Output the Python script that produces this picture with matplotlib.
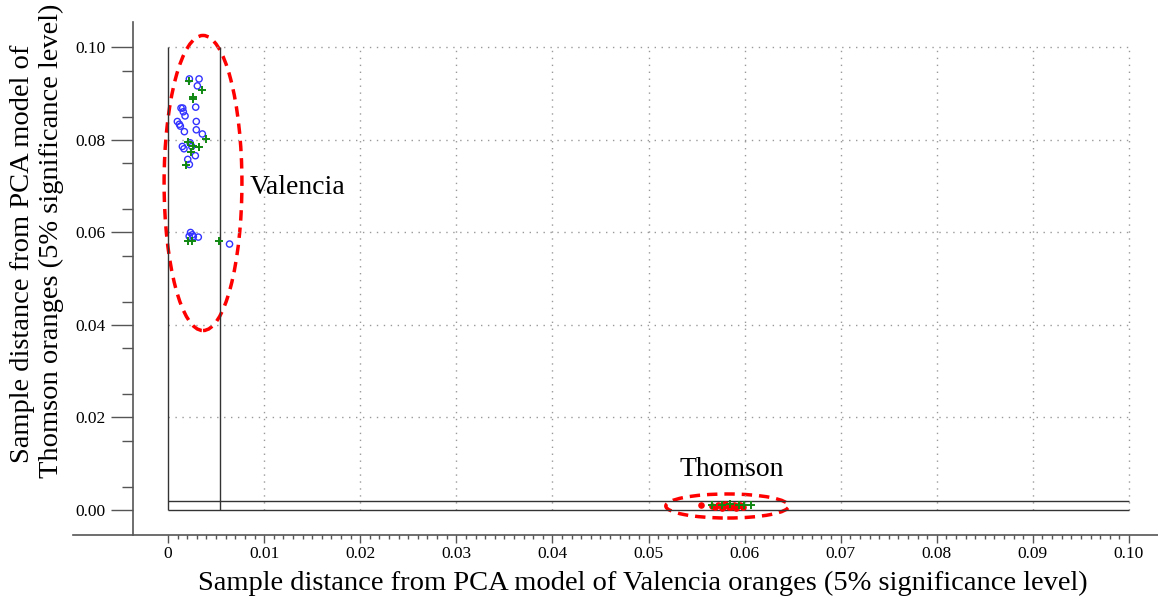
import matplotlib
matplotlib.use("Agg")
import matplotlib.pyplot as plt
from matplotlib.patches import Ellipse
from matplotlib.ticker import FixedLocator, FuncFormatter

# Valencia samples (blue open circles)
val_x = [0.00222, 0.00323, 0.00305, 0.00288, 0.00135, 0.00153, 0.00159, 0.00177,
         0.00097, 0.00118, 0.00128, 0.00294, 0.00170, 0.00294, 0.00357, 0.00229,
         0.00149, 0.00166, 0.00247, 0.00284, 0.00205, 0.00222,
         0.00234, 0.00253, 0.00263, 0.00315, 0.00220, 0.00640]
val_y = [0.0932, 0.0932, 0.0917, 0.0871, 0.0869, 0.0869, 0.0861, 0.0852,
         0.0840, 0.0834, 0.0830, 0.0840, 0.0818, 0.0822, 0.0813, 0.0794,
         0.0786, 0.0781, 0.0786, 0.0766, 0.0758, 0.0747,
         0.0600, 0.0595, 0.0591, 0.0590, 0.0592, 0.0575]

# Valencia test samples (green plus)
valt_x = [0.00222, 0.00350, 0.00257, 0.00263, 0.00391, 0.00205, 0.00263,
          0.00319, 0.00239, 0.00184, 0.00211, 0.00246, 0.00534]
valt_y = [0.0928, 0.0909, 0.0892, 0.0888, 0.0803, 0.0796, 0.0786,
          0.0784, 0.0774, 0.0745, 0.0582, 0.0582, 0.0582]

# Thomson samples (red dots)
tho_x = [0.0555, 0.0566, 0.0572, 0.0577, 0.0580, 0.0583, 0.0586, 0.0589,
         0.0592, 0.0595, 0.0598, 0.0576, 0.0584, 0.0591, 0.0597, 0.0569]
tho_y = [0.0010, 0.0008, 0.0011, 0.0007, 0.0012, 0.0009, 0.0006, 0.0010,
         0.0008, 0.0011, 0.0007, 0.0005, 0.0006, 0.0005, 0.0009, 0.0006]

# Thomson test samples (green plus)
thot_x = [0.0566, 0.0576, 0.0585, 0.0594, 0.0599, 0.0607]
thot_y = [0.0011, 0.0010, 0.0012, 0.0010, 0.0011, 0.0011]

# critical limits
lim_val = 0.00544
lim_tho = 0.00195

x_major = [i / 100 for i in range(0, 11)]
x_minor = [i / 1000 for i in range(0, 101) if i % 10]
y_major = [0, 0.02, 0.04, 0.06, 0.08, 0.10]
y_minor = [i / 1000 for i in range(5, 100, 10)]

plt.rcParams['font.family'] = ['Liberation Serif', 'DejaVu Serif']

fig = plt.figure(figsize=(11.58, 5.99), dpi=100)
ax = fig.add_axes([73 / 1158, 1 - 535 / 599, 1 - 73 / 1158, (535 - 22) / 599])
ax.set_xlim(-0.00989, 0.10302)
ax.set_ylim(-0.00541, 0.10551)

ax.spines['top'].set_visible(False)
ax.spines['right'].set_visible(False)
ax.spines['left'].set_position(('data', -0.00364))
for s in ['left', 'bottom']:
    ax.spines[s].set_color('#555555')
    ax.spines[s].set_linewidth(1.2)

# dotted grid inside the [0, 0.1] box
ax.vlines(x_major[1:], 0, 0.1, colors='#999999', linestyles=(0, (1, 4)), linewidth=1)
ax.hlines(y_major[1:], 0, 0.1, colors='#999999', linestyles=(0, (1, 4)), linewidth=1)

# limit lines
ax.vlines([0, lim_val], 0, 0.1, colors='#333333', linewidth=1)
ax.hlines([0, lim_tho], 0, 0.1, colors='#333333', linewidth=1)

ax.scatter(val_x, val_y, s=20, facecolors='none', edgecolors='#3333ff',
           linewidths=1, zorder=3)
ax.scatter(tho_x, tho_y, s=14, color='#ff0000', zorder=3)
ax.scatter(valt_x + thot_x, valt_y + thot_y, s=40, marker='+', color='#118811',
           linewidths=1.4, zorder=4)

ax.add_patch(Ellipse((0.00364, 0.0707), 0.0081, 0.0638, fill=False,
                     edgecolor='red', linestyle=(0, (3, 2)), linewidth=2.5))
ax.add_patch(Ellipse((0.0582, 0.00086), 0.0128, 0.0052, fill=False,
                     edgecolor='red', linestyle=(0, (3, 2)), linewidth=2.5))

ax.text(0.0085, 0.0697, 'Valencia', fontsize=20, ha='left', va='center')
ax.text(0.0587, 0.0087, 'Thomson', fontsize=20, ha='center', va='center')

ax.xaxis.set_major_locator(FixedLocator(x_major))
ax.xaxis.set_minor_locator(FixedLocator(x_minor))
ax.yaxis.set_major_locator(FixedLocator(y_major))
ax.yaxis.set_minor_locator(FixedLocator(y_minor))
ax.xaxis.set_major_formatter(FuncFormatter(lambda v, p: '0' if abs(v) < 1e-9 else f'{v:.2f}'))
ax.yaxis.set_major_formatter(FuncFormatter(lambda v, p: f'{v:.2f}'))
ax.tick_params(axis='x', which='major', length=6, width=1, colors='#555555',
               labelcolor='black', labelsize=12.5, pad=2)
ax.tick_params(axis='x', which='minor', length=3, width=1, colors='#555555')
ax.tick_params(axis='y', which='major', length=16, width=1, colors='#555555',
               labelcolor='black', labelsize=12.5, pad=4)
ax.tick_params(axis='y', which='minor', length=8, width=1, colors='#555555')

fig.text(643 / 1158, 1 - 583 / 599,
         'Sample distance from PCA model of Valencia oranges (5% significance level)',
         fontsize=20.5, ha='center', va='center')
fig.text(23 / 1158, 1 - 254 / 599, 'Sample distance from PCA model of',
         fontsize=20.5, rotation=90, ha='center', va='center')
fig.text(51 / 1158, 1 - 241 / 599, 'Thomson oranges (5% significance level)',
         fontsize=20.5, rotation=90, ha='center', va='center')

fig.savefig('out.png', dpi=100)
